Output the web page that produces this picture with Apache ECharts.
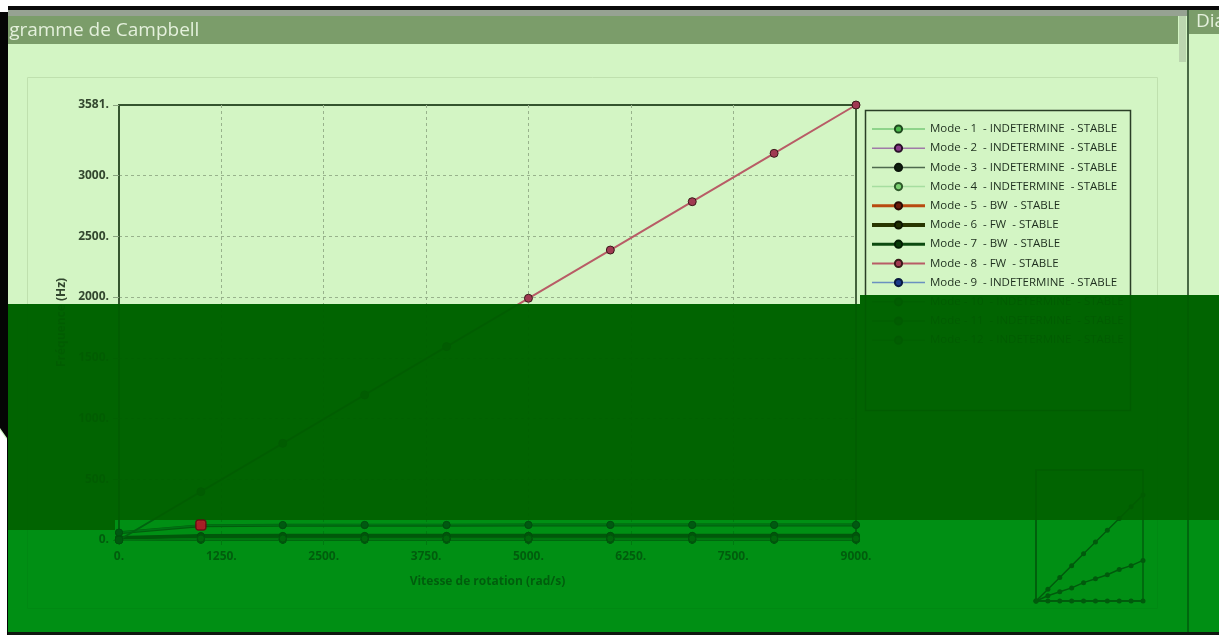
<!DOCTYPE html>
<html>
<head>
<meta charset="utf-8">
<title>Diagramme de Campbell</title>
<script src="https://cdn.jsdelivr.net/npm/echarts@6/dist/echarts.min.js"></script>
<style>
  html, body { margin: 0; padding: 0; background: #ffffff; }
  #chart { width: 1219px; height: 635px; }
</style>
</head>
<body>
<div id="chart"></div>
<script>
// Rotation speeds (rad/s) at which the modes were computed
const speeds = [0, 1000, 2000, 3000, 4000, 5000, 6000, 7000, 8000, 9000];

// Natural frequencies (Hz) per mode
const mode1  = [0, 1, 1, 1, 1, 1, 1, 1, 1, 1];
const mode2  = [0, 2, 2, 2, 2, 2, 2, 2, 2, 2];
const mode3  = [0, 4, 4, 4, 4, 4, 4, 4, 4, 4];
const mode4  = [0, 6, 6, 6, 6, 6, 6, 6, 6, 6];
const mode5  = [16, 30, 31, 31, 32, 32, 32, 32, 32, 32];
const mode6  = [16, 33, 34, 34, 35, 35, 35, 35, 35, 35];
const mode7  = [60, 118, 121, 122, 122, 123, 123, 123, 123, 123];
const mode8  = [0, 398, 796, 1194, 1592, 1990, 2387, 2785, 3183, 3581];
const mode9  = [62, 122, 124, 125, 125, 125, 125, 125, 125, 125];
const mode10 = [0, 8, 8, 8, 8, 8, 8, 8, 8, 8];
const mode11 = [0, 10, 10, 10, 10, 10, 10, 10, 10, 10];
const mode12 = [0, 12, 12, 12, 12, 12, 12, 12, 12, 12];

const modeNames = [
  'Mode - 1  - INDETERMINE  - STABLE',
  'Mode - 2  - INDETERMINE  - STABLE',
  'Mode - 3  - INDETERMINE  - STABLE',
  'Mode - 4  - INDETERMINE  - STABLE',
  'Mode - 5  - BW  - STABLE',
  'Mode - 6  - FW  - STABLE',
  'Mode - 7  - BW  - STABLE',
  'Mode - 8  - FW  - STABLE',
  'Mode - 9  - INDETERMINE  - STABLE',
  'Mode - 10  - INDETERMINE  - STABLE',
  'Mode - 11  - INDETERMINE  - STABLE',
  'Mode - 12  - INDETERMINE  - STABLE'
];
const modeValues = [mode1, mode2, mode3, mode4, mode5, mode6, mode7, mode8, mode9, mode10, mode11, mode12];

// Selected point (speed, frequency)
const selectedPoint = [1000, 124];

// Axis tick values
const xTicks = [0, 1250, 2500, 3750, 5000, 6250, 7500, 9000];
const yTicks = [0, 500, 1000, 1500, 2000, 2500, 3000, 3581];

// Overview thumbnail
const insetX = [0, 1, 2, 3, 4, 5, 6, 7, 8, 9];
const insetA = [0, 9, 18, 27, 36, 45, 54, 63, 72, 81];
const insetB = [0, 4, 7, 10, 14, 17, 20, 24, 27, 31];
const insetC = [0, 0, 0, 0, 0, 0, 0, 0, 0, 0];

// Line / marker styling per mode
const modeStyles = [
  { line: '#78c878', fill: '#4cb84c', border: '#1e4a1e', width: 1 },
  { line: '#a07aa8', fill: '#8a3a8a', border: '#2a102a', width: 1 },
  { line: '#4e6a4e', fill: '#0e1e0e', border: '#0a140a', width: 1.5 },
  { line: '#a6dea0', fill: '#7ad070', border: '#2e5a2a', width: 1 },
  { line: '#b84a10', fill: '#6a1a0a', border: '#2a0a04', width: 3 },
  { line: '#283600', fill: '#1e2e00', border: '#0e1600', width: 4 },
  { line: '#0c4a10', fill: '#083a08', border: '#041e04', width: 3 },
  { line: '#b85c66', fill: '#a03a52', border: '#3a1a1a', width: 2 },
  { line: '#6a90c0', fill: '#1a3a8a', border: '#0a1a40', width: 1.5 },
  { line: '#40a0a0', fill: '#206a6a', border: '#0a2a2a', width: 1 },
  { line: '#8a8ac8', fill: '#4a4a9a', border: '#1a1a40', width: 1 },
  { line: '#c0a040', fill: '#8a6a10', border: '#3a2a04', width: 1 }
];

const labelFont = { fontFamily: 'Open Sans', fontSize: 12, fontWeight: 'bold', color: '#33472f' };

const series = modeNames.map((name, i) => ({
  name: name,
  type: 'line',
  xAxisIndex: 0,
  yAxisIndex: 0,
  z: i === 7 ? 4 : 3,
  data: speeds.map((w, k) => [w, modeValues[i][k]]),
  symbol: 'circle',
  symbolSize: i === 7 ? 8 : 7,
  showSymbol: true,
  lineStyle: { color: modeStyles[i].line, width: modeStyles[i].width },
  itemStyle: { color: modeStyles[i].fill, borderColor: modeStyles[i].border, borderWidth: 1 },
  emphasis: { disabled: true }
}));

series.push({
  name: 'Point sélectionné',
  type: 'scatter',
  xAxisIndex: 0,
  yAxisIndex: 0,
  z: 60,
  data: [selectedPoint],
  symbol: 'roundRect',
  symbolSize: 10,
  itemStyle: { color: '#d2102c', borderColor: '#6a0012', borderWidth: 1.5 }
});

[insetA, insetB, insetC].forEach(vals => {
  series.push({
    type: 'line',
    xAxisIndex: 1,
    yAxisIndex: 1,
    data: insetX.map((x, k) => [x, vals[k]]),
    symbol: 'circle',
    symbolSize: 5,
    lineStyle: { color: '#1f3d1f', width: 1.5 },
    itemStyle: { color: '#1f3d1f' }
  });
});

const legendData = modeNames.map((name, i) => ({
  name: name,
  lineStyle: { width: Math.max(1.5, modeStyles[i].width) }
}));

// A tinted band: multiply pass followed by a translucent wash of the same green
function tintBand(x, y, w, h, mulColor, washColor, washOpacity) {
  return [
    { type: 'rect', z: 50, silent: true, shape: { x: x, y: y, width: w, height: h },
      style: { fill: mulColor, blend: 'multiply' } },
    { type: 'rect', z: 51, silent: true, shape: { x: x, y: y, width: w, height: h },
      style: { fill: washColor, opacity: washOpacity } }
  ];
}

const gridLineStyle = { color: '#98b28c', type: [3, 3], width: 1 };

const chart = echarts.init(document.getElementById('chart'), null, { renderer: 'canvas' });

chart.setOption({
  animation: false,
  backgroundColor: '#d3f5c4',
  grid: [
    { left: 119, right: 363, top: 105, bottom: 95, show: true, borderColor: '#34542e', borderWidth: 1.8, backgroundColor: 'transparent' },
    { left: 1036, right: 76, top: 470, bottom: 34, show: true, borderColor: '#2a4a26', borderWidth: 1.5 }
  ],
  xAxis: [
    {
      type: 'value', gridIndex: 0, min: 0, max: 9000,
      name: 'Vitesse de rotation (rad/s)', nameLocation: 'middle', nameGap: 36,
      nameTextStyle: labelFont,
      axisLine: { show: true, lineStyle: { color: '#34542e', width: 1.8 } },
      axisTick: { show: true, length: 5, customValues: xTicks, lineStyle: { color: '#8aa480' } },
      axisLabel: Object.assign({ customValues: xTicks, margin: 11, formatter: v => v + '.' }, labelFont),
      splitLine: { show: true, showMinLine: false, showMaxLine: false, lineStyle: gridLineStyle }
    },
    {
      type: 'value', gridIndex: 1, min: 0, max: 9,
      axisLine: { show: true, lineStyle: { color: '#2a4a26', width: 1.5 } },
      axisTick: { show: false }, axisLabel: { show: false }, splitLine: { show: false }
    }
  ],
  yAxis: [
    {
      type: 'value', gridIndex: 0, min: 0, max: 3581,
      name: 'Fréquence (Hz)', nameLocation: 'middle', nameGap: 47,
      nameTextStyle: labelFont,
      axisLine: { show: true, lineStyle: { color: '#34542e', width: 1.8 } },
      axisTick: { show: true, length: 6, customValues: yTicks, lineStyle: { color: '#8aa480' } },
      axisLabel: Object.assign({ customValues: yTicks, margin: 10, formatter: v => v + '.' }, labelFont),
      splitLine: { show: true, showMinLine: false, showMaxLine: false, lineStyle: gridLineStyle }
    },
    {
      type: 'value', gridIndex: 1, min: 0, max: 100,
      axisLine: { show: true, lineStyle: { color: '#2a4a26', width: 1.5 } },
      axisTick: { show: false }, axisLabel: { show: false }, splitLine: { show: false }
    }
  ],
  legend: {
    data: legendData,
    orient: 'vertical',
    left: 870,
    top: 122,
    padding: 0,
    itemWidth: 53,
    itemHeight: 9,
    itemGap: 5.2,
    selectedMode: false,
    textStyle: { fontFamily: 'Open Sans', fontSize: 11.5, color: '#1e2e1e', lineHeight: 14 }
  },
  graphic: [
    // inner panel frame
    { type: 'rect', z: 0, silent: true, shape: { x: 27.5, y: 77.5, width: 1130, height: 531 },
      style: { fill: 'transparent', stroke: '#bfe0ae', lineWidth: 1 } },
    // legend frame
    { type: 'rect', z: 1, silent: true, shape: { x: 865.5, y: 110.5, width: 265, height: 300 },
      style: { fill: 'transparent', stroke: '#2a3e26', lineWidth: 1.5 } },
    // window chrome: top edge
    { type: 'rect', z: 40, silent: true, shape: { x: 0, y: 0, width: 1219, height: 6 }, style: { fill: '#ffffff' } },
    { type: 'rect', z: 40, silent: true, shape: { x: 8, y: 6, width: 1211, height: 4 }, style: { fill: '#0a0a0a' } },
    { type: 'rect', z: 40, silent: true, shape: { x: 8, y: 10, width: 1211, height: 6 }, style: { fill: '#96a292' } },
    // header bar of the Campbell panel
    { type: 'rect', z: 40, silent: true, shape: { x: 8, y: 16, width: 1170, height: 28 }, style: { fill: '#7b9d6a' } },
    { type: 'text', z: 41, silent: true, x: -20, y: 31,
      style: { text: 'Diagramme de Campbell', fill: '#e4f0dc', font: '19px "Open Sans"', verticalAlign: 'middle' } },
    // scroll strip and panel divider
    { type: 'rect', z: 40, silent: true, shape: { x: 1179, y: 16, width: 7, height: 46 }, style: { fill: '#bcd6b0' } },
    { type: 'rect', z: 40, silent: true, shape: { x: 1187, y: 10, width: 2, height: 625 }, style: { fill: '#4a6a46' } },
    // header of the neighbouring panel
    { type: 'rect', z: 40, silent: true, shape: { x: 1189, y: 10, width: 30, height: 24 }, style: { fill: '#7b9d6a' } },
    { type: 'text', z: 41, silent: true, x: 1196, y: 22,
      style: { text: 'Diagramme', fill: '#e4f0dc', font: '19px "Open Sans"', verticalAlign: 'middle' } },
    // left window edge
    { type: 'polygon', z: 70, silent: true, shape: { points: [[0, 12], [8, 12], [8, 635], [7, 635], [7, 438], [0, 428]] },
      style: { fill: '#050505' } },
    { type: 'polygon', z: 70, silent: true, shape: { points: [[0, 6], [8, 6], [8, 12], [0, 12]] },
      style: { fill: '#ffffff' } },
    { type: 'polygon', z: 70, silent: true, shape: { points: [[0, 430], [7, 440], [7, 635], [0, 635]] },
      style: { fill: '#ffffff' } },
    // green tinted bands across the window
    ...tintBand(8, 304, 852, 216, '#016801', '#016401', 0.9),
    ...tintBand(860, 295, 359, 225, '#016801', '#016401', 0.9),
    ...tintBand(8, 520, 107, 10, '#016801', '#016401', 0.9),
    ...tintBand(115, 520, 1104, 10, '#00951a', '#008f14', 0.5),
    ...tintBand(8, 530, 1211, 102, '#00951a', '#008f14', 0.5),
    // bottom window edge
    { type: 'rect', z: 70, silent: true, shape: { x: 8, y: 632, width: 1211, height: 3 }, style: { fill: '#101810' } }
  ],
  series: series
});
</script>
</body>
</html>
